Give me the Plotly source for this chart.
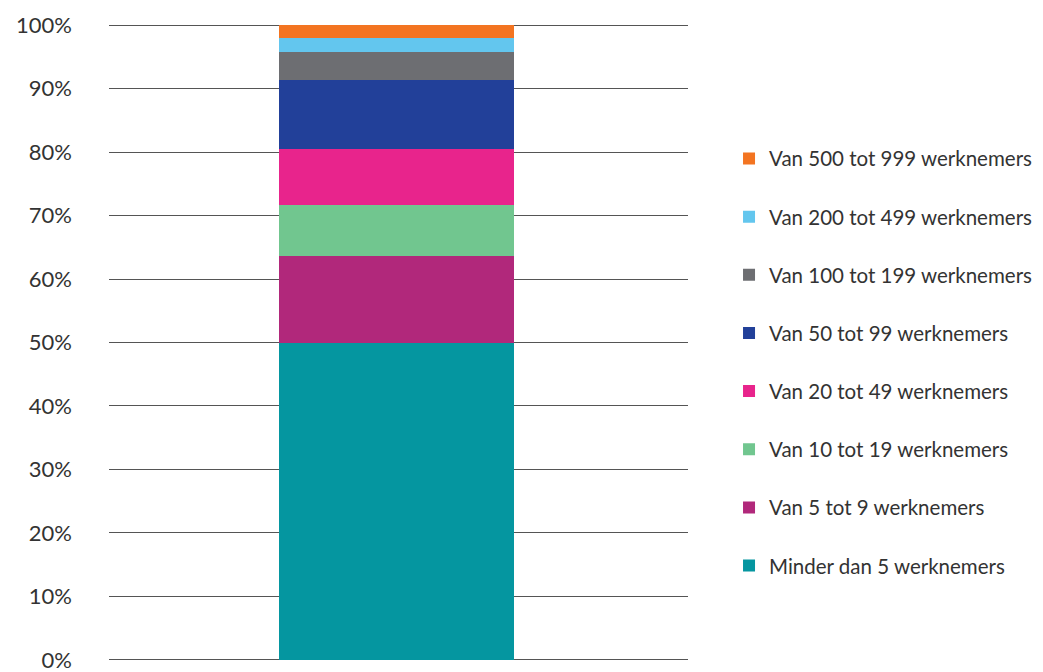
import plotly.graph_objects as go

categories = [""]
series_names = [
    "Minder dan 5 werknemers",
    "Van 5 tot 9 werknemers",
    "Van 10 tot 19 werknemers",
    "Van 20 tot 49 werknemers",
    "Van 50 tot 99 werknemers",
    "Van 100 tot 199 werknemers",
    "Van 200 tot 499 werknemers",
    "Van 500 tot 999 werknemers",
]
series_values = [50.0, 13.6, 8.1, 8.8, 10.8, 4.5, 2.2, 2.0]
series_colors = ["#0596A0", "#B1287B", "#71C68F", "#E8248C", "#224099", "#6D6E72", "#63C6EE", "#F37421"]
tick_values = [0, 10, 20, 30, 40, 50, 60, 70, 80, 90, 100]
tick_labels = [f"{v}%" for v in tick_values]

fig = go.Figure()
n = len(series_names)
for i, (name, val, col) in enumerate(zip(series_names, series_values, series_colors)):
    fig.add_trace(go.Bar(x=categories, y=[val], name=name, marker_color=col,
                         marker_line_width=0, legendgroup=name, legendrank=n - i,
                         width=0.406))

fig.update_layout(
    barmode="stack",
    width=1043, height=672,
    margin=dict(l=101, r=0, t=14, b=17, autoexpand=False),
    plot_bgcolor="white", paper_bgcolor="white",
    font=dict(family="Lato, Open Sans, sans-serif", color="#333333"),
    showlegend=True,
    legend=dict(traceorder="grouped", x=0.6582, xanchor="left", y=0.818, yanchor="top",
                tracegroupgap=28.5, font=dict(size=20.5, color="#333333")),
    xaxis=dict(domain=[0, 0.6146], range=[-0.4965, 0.5035], showticklabels=False,
               showgrid=False, zeroline=False, showline=False),
    yaxis=dict(range=[-0.5, 100.5], tickvals=tick_values, ticktext=tick_labels,
               showgrid=True, gridcolor="#555555", gridwidth=1.3, zeroline=False,
               showline=False, tickfont=dict(size=22, color="#333333"),
               ticklabelstandoff=36, automargin=False),
)

fig.write_html("out.html")
